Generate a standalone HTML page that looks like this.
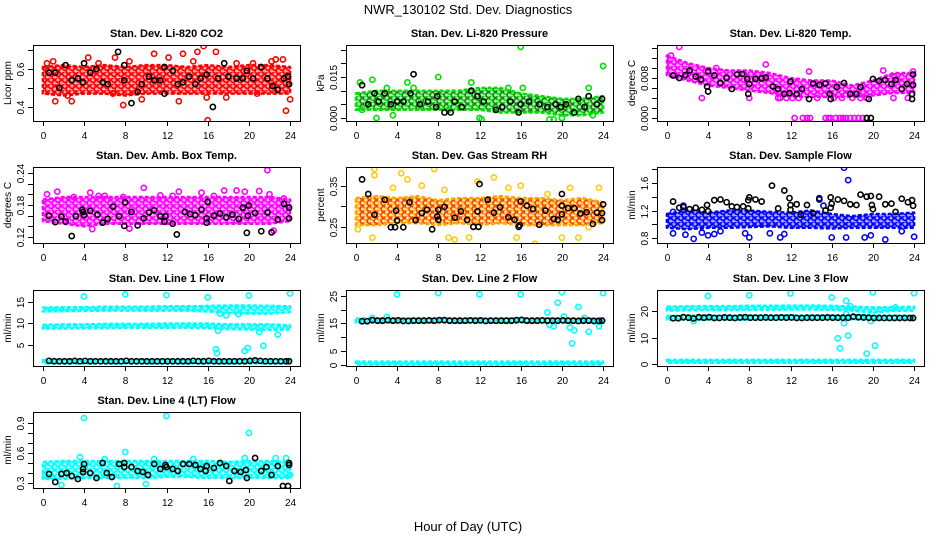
<!DOCTYPE html>
<html><head><meta charset="utf-8"><style>
html,body{margin:0;padding:0;background:#fff;}
svg{display:block;font-family:"Liberation Sans",Arial,sans-serif;}
</style></head><body>
<svg id="root" width="936" height="540" viewBox="0 0 936 540">
<defs id="defs"></defs>
<text x="468" y="14" font-size="13" text-anchor="middle">NWR_130102  Std. Dev. Diagnostics</text>
<text x="468" y="531" font-size="13" text-anchor="middle">Hour of Day (UTC)</text>
</svg>
<script>
const bandX = [0,2,4,6,8,10,12,14,16,18,20,22,24];
const lineBlackX = [0.6,1.1,1.6,2.1,2.6,3.1,3.6,4.1,4.6,5.1,5.6,6.1,6.6,7.1,7.6,8.1,8.6,9.1,9.6,10.1,10.6,11.1,11.6,12.1,12.6,13.1,13.6,14.1,14.6,15.1,15.6,16.1,16.6,17.1,17.6,18.1,18.6,19.1,19.6,20.1,20.6,21.1,21.6,22.1,22.6,23.1,23.6,23.9];

// Panel 1: CO2
const co2Lo = [0.47,0.46,0.47,0.47,0.46,0.47,0.47,0.47,0.47,0.47,0.47,0.47,0.47];
const co2Hi = [0.61,0.62,0.61,0.62,0.61,0.62,0.62,0.61,0.62,0.61,0.62,0.62,0.61];
const co2Pts = [[0.4,0.63],[1.0,0.64],[1.2,0.43],[2.4,0.46],[2.8,0.43],[4.4,0.66],[5.4,0.63],[6.8,0.47],[7.0,0.66],[7.8,0.41],[8.4,0.64],[9.6,0.44],[10.8,0.68],[12.2,0.66],[13.2,0.43],[13.6,0.68],[14.6,0.64],[15.0,0.69],[15.6,0.72],[15.9,0.45],[16.0,0.33],[16.8,0.69],[17.8,0.45],[18.8,0.63],[20.4,0.63],[20.8,0.47],[22.2,0.64],[22.6,0.65],[23.3,0.65],[23.6,0.38],[24.0,0.44]];
const co2Black = [[0.6,0.58],[1.2,0.58],[1.6,0.5],[2.2,0.62],[2.8,0.54],[3.4,0.55],[3.9,0.53],[4.0,0.63],[4.6,0.58],[5.2,0.6],[5.8,0.53],[6.3,0.52],[7.3,0.69],[7.9,0.62],[7.9,0.54],[8.6,0.42],[9.2,0.48],[9.6,0.52],[10.3,0.56],[10.8,0.54],[11.4,0.54],[11.8,0.47],[11.8,0.61],[12.6,0.59],[13.1,0.52],[13.6,0.53],[14.2,0.56],[14.8,0.52],[15.3,0.55],[15.9,0.57],[16.5,0.4],[17.0,0.55],[17.6,0.63],[18.0,0.56],[18.8,0.55],[19.4,0.55],[19.8,0.59],[20.4,0.55],[21.2,0.61],[21.8,0.55],[22.3,0.51],[22.8,0.49],[23.4,0.55],[23.8,0.56],[23.9,0.52]];

// Panel 2: Pressure
const presLo = [0.003,0.003,0.003,0.003,0.003,0.003,0.003,0.002,0.002,0.002,0.001,0.001,0.002];
const presHi = [0.009,0.010,0.010,0.010,0.010,0.010,0.011,0.011,0.009,0.008,0.007,0.007,0.008];
const presPts = [[0.4,0.013],[0.6,0.003],[1.6,0.014],[2.0,0.0],[3.0,0.011],[3.6,0.001],[5.0,0.013],[5.6,0.011],[8.0,0.015],[9.0,0.003],[11.2,0.013],[12.0,0.0],[12.2,-0.0005],[14.8,0.011],[16.0,0.026],[16.2,0.011],[18.8,-0.0005],[19.2,-0.0005],[20.0,0.0],[22.6,0.011],[24.0,0.019],[23.0,0.001]];
const presBlack = [[0.6,0.012],[1.2,0.005],[1.8,0.009],[2.2,0.006],[2.8,0.009],[3.4,0.005],[4.0,0.006],[4.6,0.006],[5.3,0.009],[5.6,0.016],[6.2,0.005],[7.0,0.006],[7.8,0.004],[7.9,0.008],[8.6,0.002],[9.2,0.002],[9.6,0.006],[10.3,0.004],[11.2,0.010],[11.8,0.008],[12.4,0.006],[13.6,0.003],[14.2,0.004],[15.0,0.006],[15.8,0.002],[16.0,0.005],[16.8,0.006],[17.8,0.005],[18.6,0.004],[19.4,0.005],[19.9,0.004],[20.4,0.005],[21.2,0.002],[21.6,0.007],[22.2,0.004],[22.6,0.008],[23.4,0.005],[23.9,0.007]];

// Panel 3: Li-820 temp
const tempLo = [0.0085,0.0075,0.0065,0.006,0.0055,0.005,0.0042,0.0042,0.0042,0.0042,0.0045,0.005,0.005];
const tempHi = [0.0125,0.011,0.010,0.0095,0.0095,0.009,0.008,0.0075,0.0075,0.0065,0.0075,0.009,0.009];
const tempPts = [[1.2,0.0142],[0.4,0.0125],[3.4,0.004],[4.8,0.010],[8.0,0.004],[9.6,0.0107],[11.0,0.004],[13.8,0.0093],[12.4,0],[13.2,0],[13.6,0],[13.9,0],[15.4,0],[15.7,0],[15.9,0],[16.4,0],[16.8,0],[17.1,0],[17.4,0],[17.8,0],[18.2,0],[18.6,0],[19.0,0],[22.0,0.004],[23.4,0.004],[23.9,0.0093],[21.0,0.0095],[10.8,0.004],[11.6,0.004],[12.2,0.004],[12.8,0.004],[14.6,0.004],[16.2,0.004],[17.0,0.004],[18.0,0.004],[18.8,0.004],[19.4,0.004]];
const tempBlack = [[0.6,0.0085],[1.2,0.008],[1.8,0.0086],[2.2,0.0095],[2.8,0.0083],[3.3,0.0077],[3.9,0.0063],[4.0,0.0053],[4.0,0.0093],[4.6,0.0085],[5.2,0.007],[5.8,0.008],[6.3,0.0058],[6.8,0.0087],[7.3,0.0088],[7.8,0.0078],[7.9,0.0048],[8.0,0.0068],[8.6,0.0078],[9.2,0.0079],[9.6,0.0081],[10.3,0.0063],[10.8,0.0058],[11.4,0.0048],[11.9,0.005],[12.0,0.0073],[12.6,0.0048],[13.1,0.0058],[13.8,0.0038],[14.2,0.0069],[14.8,0.0066],[15.4,0.0069],[15.8,0.0048],[15.9,0.0038],[16.5,0.0062],[17.2,0.007],[17.8,0.0048],[18.4,0.0048],[18.8,0.0062],[19.4,0.0],[19.8,0.0],[19.6,0.0038],[20.0,0.0078],[20.6,0.0074],[21.2,0.0076],[21.8,0.0068],[22.2,0.0076],[22.8,0.0058],[23.3,0.0068],[23.8,0.0048],[23.8,0.0038],[23.9,0.0087],[23.9,0.0066]];

// Panel 4: Amb box temp
const ambLo = [0.15,0.145,0.14,0.145,0.145,0.145,0.145,0.145,0.145,0.145,0.145,0.145,0.15];
const ambHi = [0.19,0.195,0.195,0.195,0.195,0.195,0.195,0.195,0.195,0.195,0.195,0.195,0.19];
const ambPts = [[0.4,0.200],[1.4,0.205],[3.0,0.195],[4.8,0.135],[4.6,0.203],[5.4,0.197],[6.0,0.197],[7.8,0.195],[8.4,0.136],[9.8,0.212],[11.4,0.198],[12.6,0.197],[13.2,0.205],[15.4,0.203],[16.6,0.197],[17.6,0.207],[18.8,0.207],[19.6,0.205],[21.0,0.206],[21.8,0.245],[22.4,0.132],[23.4,0.192],[22.0,0.2]];
const ambBlack = [[0.6,0.160],[1.2,0.148],[1.8,0.158],[2.2,0.149],[2.8,0.122],[3.2,0.159],[3.8,0.171],[3.9,0.167],[4.0,0.161],[4.6,0.169],[5.3,0.162],[5.8,0.147],[6.3,0.154],[6.8,0.177],[7.4,0.159],[7.9,0.141],[8.0,0.185],[8.6,0.167],[9.2,0.142],[9.8,0.155],[10.3,0.166],[10.8,0.17],[11.4,0.159],[11.8,0.149],[11.9,0.159],[12.6,0.145],[13.0,0.125],[13.8,0.167],[14.3,0.163],[14.8,0.161],[15.4,0.171],[15.9,0.147],[15.9,0.155],[16.0,0.186],[16.6,0.16],[17.2,0.164],[17.8,0.157],[18.4,0.162],[19.0,0.154],[19.4,0.175],[19.8,0.128],[19.9,0.16],[20.0,0.179],[20.6,0.165],[21.2,0.131],[21.8,0.166],[22.2,0.129],[22.8,0.153],[23.4,0.182],[23.9,0.155],[23.9,0.175]];

// Panel 5: Gas stream RH
const rhLo = [0.255,0.255,0.26,0.26,0.255,0.26,0.255,0.26,0.255,0.255,0.255,0.255,0.26];
const rhHi = [0.32,0.325,0.32,0.325,0.315,0.32,0.32,0.325,0.32,0.32,0.315,0.32,0.31];
const rhPts = [[1.6,0.225],[1.8,0.39],[1.8,0.375],[3.6,0.345],[4.4,0.38],[5.0,0.365],[6.4,0.35],[7.6,0.39],[8.6,0.34],[9.0,0.225],[9.6,0.22],[11.0,0.225],[11.8,0.36],[13.4,0.37],[14.8,0.345],[15.6,0.225],[16.0,0.35],[17.4,0.21],[18.6,0.33],[20.0,0.225],[20.8,0.345],[21.6,0.225],[23.6,0.345],[0.2,0.245],[22.6,0.25]];
const rhBlack = [[0.6,0.365],[1.2,0.33],[1.8,0.28],[2.8,0.316],[3.4,0.25],[3.8,0.25],[3.9,0.29],[4.0,0.266],[4.6,0.25],[5.2,0.31],[5.8,0.267],[6.4,0.284],[6.9,0.292],[7.4,0.245],[7.9,0.276],[8.0,0.292],[8.0,0.268],[8.6,0.299],[9.6,0.273],[10.2,0.288],[10.8,0.268],[11.4,0.251],[11.8,0.288],[11.9,0.251],[12.0,0.354],[12.8,0.316],[13.4,0.285],[14.0,0.298],[14.8,0.274],[15.4,0.268],[15.9,0.255],[15.8,0.251],[16.0,0.312],[16.6,0.302],[17.2,0.294],[17.8,0.256],[18.4,0.29],[19.2,0.27],[19.6,0.268],[20.0,0.302],[20.0,0.33],[20.0,0.281],[20.6,0.296],[21.2,0.296],[21.8,0.283],[22.4,0.286],[23.0,0.258],[23.4,0.285],[23.9,0.267],[23.9,0.284],[24.0,0.305]];

// Panel 6: Sample flow
const sfLo = [0.95,0.93,0.95,0.95,0.96,0.97,0.95,0.95,0.94,0.95,0.95,0.95,0.95];
const sfHi = [1.15,1.2,1.17,1.2,1.2,1.18,1.17,1.2,1.15,1.12,1.15,1.15,1.17];
const sfPts = [[0.6,1.18],[0.6,0.87],[1.6,1.27],[1.8,0.85],[2.6,0.79],[3.4,0.88],[4.0,0.84],[4.6,0.86],[5.2,0.9],[7.6,0.87],[8.0,0.81],[10.0,0.87],[11.0,0.81],[11.4,0.86],[14.8,1.38],[15.2,1.27],[16.0,0.81],[17.2,1.82],[17.6,1.64],[17.4,0.81],[19.2,0.81],[19.8,0.84],[21.2,0.78],[22.8,0.9],[24.0,0.82]];
const sfBlack = [[0.6,1.33],[1.2,1.24],[1.6,1.25],[2.2,1.22],[2.8,1.24],[3.4,1.21],[3.9,1.28],[4.0,1.19],[4.6,1.35],[5.2,1.36],[5.8,1.32],[6.3,1.26],[6.8,1.25],[7.4,1.26],[7.9,1.35],[7.9,1.23],[8.0,1.39],[8.6,1.36],[9.2,1.33],[10.2,1.56],[10.8,1.23],[11.4,1.49],[11.9,1.38],[12.0,1.28],[12.0,1.21],[12.6,1.29],[13.0,1.14],[13.6,1.28],[14.2,1.16],[14.8,1.36],[15.4,1.2],[15.9,1.39],[16.0,1.3],[15.9,1.24],[16.6,1.36],[17.2,1.34],[17.8,1.29],[18.4,1.28],[18.8,1.43],[19.4,1.4],[19.8,1.41],[19.9,1.28],[20.0,1.22],[20.6,1.4],[21.2,1.29],[21.8,1.3],[22.2,1.18],[22.8,1.37],[23.4,1.32],[23.8,1.35],[23.9,1.27]];

// Panel 7: Line 1 flow
const l1LoA = [12.8,12.9,12.9,13.0,13.0,13.0,13.0,13.0,12.8,12.4,12.3,12.3,12.6];
const l1HiA = [13.7,13.8,13.8,13.9,13.9,13.9,14.0,14.0,14.1,14.2,14.2,14.1,14.0];
const l1LoB = [8.8,8.8,8.9,8.9,9.0,9.0,9.0,9.0,8.9,8.7,8.6,8.5,8.6];
const l1HiB = [9.7,9.8,9.8,9.9,9.9,9.9,10.0,10.0,10.0,9.8,9.8,9.8,9.6];
const l1LoC = [0.7,0.7,0.7,0.7,0.7,0.7,0.7,0.7,0.7,0.7,0.7,0.7,0.7];
const l1HiC = [1.5,1.5,1.5,1.5,1.5,1.5,1.5,1.5,1.5,1.5,1.5,1.5,1.5];
const l1Pts = [[4.0,16.3],[8.0,16.8],[12.0,16.6],[16.0,16.1],[20.0,16.5],[24.0,17.0],[16.8,4.0],[16.9,3.1],[19.6,3.6],[19.9,4.3],[21.4,4.8],[22.8,7.4],[17.2,12.3],[17.8,11.9],[19.0,12.2],[21.0,8.0],[17.0,8.3]];
const l1BlackY = [1.3,1.2,1.2,1.2,1.2,1.3,1.2,1.3,1.2,1.2,1.2,1.2,1.2,1.2,1.2,1.3,1.2,1.2,1.2,1.2,1.2,1.2,1.2,1.2,1.2,1.2,1.2,1.2,1.3,1.2,1.2,1.3,1.2,1.2,1.2,1.2,1.2,1.2,1.2,1.3,1.4,1.3,1.2,1.2,1.2,1.2,1.2,1.2];

// Panel 8: Line 2 flow
const l2LoA = [15.3,15.3,15.3,15.3,15.3,15.3,15.3,15.3,15.3,15.3,15.3,15.3,15.3];
const l2HiA = [16.8,16.9,16.8,16.8,16.8,16.8,16.8,16.8,16.9,16.8,16.8,16.8,16.8];
const l2LoB = [0.1,0.1,0.1,0.1,0.1,0.1,0.1,0.1,0.1,0.1,0.1,0.1,0.1];
const l2HiB = [1.2,1.2,1.2,1.2,1.2,1.2,1.2,1.2,1.2,1.2,1.2,1.2,1.2];
const l2Pts = [[4.0,25.5],[8.0,26.0],[12.0,25.5],[16.0,25.5],[20.0,26.3],[24.0,26.0],[18.6,19.0],[19.6,22.5],[18.8,14.5],[19.2,14.0],[20.2,17.5],[20.8,13.5],[21.2,12.5],[21.0,7.8],[21.6,21.0],[22.2,17.0],[22.6,12.0],[23.6,14.0],[1.6,17.0],[3.0,17.3]];
const l2BlackY = [15.8,15.8,16.2,16.0,16.0,16.2,16.0,16.1,15.9,15.9,16.0,16.0,16.0,16.1,16.0,16.2,16.2,16.0,16.0,16.0,16.0,16.1,16.0,16.1,15.9,16.0,16.0,16.0,16.0,16.0,16.2,16.3,16.0,16.0,16.0,16.1,16.0,16.0,16.0,16.1,16.0,16.0,15.9,16.0,16.0,15.9,15.9,16.0];

// Panel 9: Line 3 flow
const l3LoA = [20.3,20.4,20.5,20.5,20.6,20.6,20.7,20.7,20.6,20.3,19.5,20.2,20.3];
const l3HiA = [21.8,21.9,22.0,22.0,22.1,22.1,22.2,22.2,22.1,21.8,21.5,21.6,21.8];
const l3LoB = [16.8,16.9,16.9,16.9,16.9,17.0,17.0,17.0,17.0,17.0,16.9,16.9,16.9];
const l3HiB = [18.3,18.4,18.4,18.4,18.4,18.4,18.5,18.4,18.4,18.5,18.4,18.4,18.3];
const l3LoC = [0.5,0.5,0.5,0.5,0.5,0.5,0.5,0.5,0.5,0.5,0.5,0.5,0.5];
const l3HiC = [1.6,1.6,1.6,1.6,1.6,1.6,1.6,1.6,1.6,1.6,1.6,1.6,1.6];
const l3Pts = [[4.0,25.8],[8.0,26.1],[12.0,26.8],[16.0,25.3],[20.0,27.2],[24.0,26.9],[16.6,9.8],[16.8,6.0],[17.2,15.5],[17.4,24.0],[17.6,10.8],[17.8,22.0],[19.4,4.0],[19.8,16.3],[20.2,7.0],[17.4,19.0],[22.2,21.5],[2.6,16.3]];
const l3BlackY = [17.4,17.4,17.8,17.6,17.3,17.8,17.6,17.8,17.5,17.5,17.7,17.6,17.5,17.7,17.8,17.6,17.6,17.6,17.7,17.6,17.6,17.7,17.6,17.7,17.5,17.5,17.6,17.6,17.6,17.6,17.7,17.6,17.6,17.6,17.6,18.0,17.8,17.7,17.6,17.5,17.5,17.5,17.5,17.5,17.5,17.5,17.5,17.5];

// Panel 10: Line 4 (LT) flow
const l4Lo = [0.34,0.34,0.35,0.35,0.35,0.35,0.36,0.36,0.35,0.35,0.35,0.35,0.35];
const l4Hi = [0.51,0.52,0.52,0.52,0.52,0.52,0.52,0.52,0.52,0.51,0.52,0.52,0.51];
const l4Pts = [[4.0,0.95],[12.0,0.97],[20.0,0.8],[1.8,0.28],[7.2,0.27],[10.0,0.29],[8.0,0.61],[3.6,0.56],[6.0,0.54],[0.2,0.38],[10.8,0.54],[14.6,0.54],[19.6,0.55],[22.6,0.55],[23.6,0.55],[24.0,0.38]];
const l4Black = [[0.6,0.39],[1.2,0.31],[1.8,0.39],[2.3,0.4],[2.8,0.37],[3.4,0.34],[3.9,0.41],[3.9,0.44],[4.0,0.49],[4.6,0.4],[5.2,0.35],[5.8,0.5],[6.2,0.4],[6.7,0.36],[7.4,0.49],[7.9,0.46],[7.9,0.5],[8.6,0.46],[9.2,0.42],[9.7,0.41],[10.2,0.38],[10.8,0.49],[11.4,0.44],[11.9,0.48],[12.0,0.46],[12.6,0.44],[13.1,0.42],[13.6,0.49],[14.2,0.49],[14.8,0.48],[15.3,0.44],[15.8,0.42],[15.9,0.47],[16.6,0.45],[17.2,0.5],[17.8,0.47],[18.1,0.32],[18.6,0.42],[19.2,0.41],[19.7,0.43],[19.8,0.35],[20.6,0.55],[21.2,0.42],[21.7,0.46],[22.2,0.38],[22.8,0.47],[23.3,0.27],[23.8,0.27],[23.9,0.48],[23.9,0.5]];

const xTicks = [0,4,8,12,16,20,24];

const NS = "http://www.w3.org/2000/svg";
const root = document.getElementById('root');
const defs = document.getElementById('defs');
function mk(tag, attrs, parent){ const e=document.createElementNS(NS,tag); for(const k in attrs) e.setAttribute(k,attrs[k]); (parent||root).appendChild(e); return e; }

// ring-texture patterns to mimic overlapping open circles
const patMade = {};
function pattern(color, alt){
  const id='pat-'+color.replace('#','')+(alt?alt.replace('#',''):'');
  if(patMade[id]) return id;
  patMade[id]=1;
  const pt=mk('pattern',{id:id,width:7,height:6,patternUnits:'userSpaceOnUse'},defs);
  mk('rect',{x:0,y:0,width:7,height:6,fill:color,'fill-opacity':0.35},pt);
  mk('circle',{cx:2,cy:2,r:2.4,fill:'none',stroke:color,'stroke-width':1.6},pt);
  mk('circle',{cx:5.5,cy:5,r:2.4,fill:'none',stroke:alt||color,'stroke-width':1.6},pt);
  mk('circle',{cx:5.5,cy:-1,r:2.4,fill:'none',stroke:alt||color,'stroke-width':1.6},pt);
  return id;
}

const CYAN = "#00ffff";
const panels = [
 {id:'co2',title:'Stan. Dev. Li-820 CO2',ylab:'Licor ppm',col:0,row:0,ymin:0.326,ymax:0.726,ticks:[0.4,0.5,0.6,0.7],labels:{0.4:'0.4',0.6:'0.6'},color:'#ff0000',bands:[[co2Lo,co2Hi]],pts:co2Pts,black:co2Black},
 {id:'pressure',title:'Stan. Dev. Li-820 Pressure',ylab:'kPa',col:1,row:0,ymin:-0.0011,ymax:0.0267,ticks:[0,0.005,0.01,0.015,0.02,0.025],labels:{0:'0.000',0.015:'0.015'},color:'#00e000',alt:'#208020',bands:[[presLo,presHi]],pts:presPts,black:presBlack},
 {id:'li820-temp',title:'Stan. Dev. Li-820 Temp.',ylab:'degrees C',col:2,row:0,ymin:-0.0006,ymax:0.0146,ticks:[0,0.002,0.004,0.006,0.008,0.010,0.012,0.014],labels:{0:'0.000',0.008:'0.008'},color:'#ff00ff',bands:[[tempLo,tempHi]],pts:tempPts,black:tempBlack},
 {id:'amb-box-temp',title:'Stan. Dev. Amb. Box Temp.',ylab:'degrees C',col:0,row:1,ymin:0.109,ymax:0.251,ticks:[0.12,0.14,0.16,0.18,0.20,0.22,0.24],labels:{0.12:'0.12',0.18:'0.18',0.24:'0.24'},color:'#ff00ff',bands:[[ambLo,ambHi]],pts:ambPts,black:ambBlack},
 {id:'gas-stream-rh',title:'Stan. Dev. Gas Stream RH',ylab:'percent',col:1,row:1,ymin:0.212,ymax:0.395,ticks:[0.25,0.30,0.35],labels:{0.25:'0.25',0.35:'0.35'},color:'#ffa500',alt:'#ff4000',pcolor:'#ffcc00',bands:[[rhLo,rhHi]],pts:rhPts,black:rhBlack},
 {id:'sample-flow',title:'Stan. Dev. Sample Flow',ylab:'ml/min',col:2,row:1,ymin:0.73,ymax:1.83,ticks:[0.8,1.0,1.2,1.4,1.6,1.8],labels:{0.8:'0.8',1.2:'1.2',1.6:'1.6'},color:'#0000ff',bands:[[sfLo,sfHi]],pts:sfPts,black:sfBlack},
 {id:'line1-flow',title:'Stan. Dev. Line 1 Flow',ylab:'ml/min',col:0,row:2,ymin:0.1,ymax:17.8,ticks:[5,10,15],labels:{5:'5',10:'10',15:'15'},color:CYAN,bands:[[l1LoA,l1HiA],[l1LoB,l1HiB],[l1LoC,l1HiC]],pts:l1Pts,blackY:l1BlackY},
 {id:'line2-flow',title:'Stan. Dev. Line 2 Flow',ylab:'ml/min',col:1,row:2,ymin:-0.4,ymax:27.1,ticks:[0,5,10,15,20,25],labels:{0:'0',5:'5',15:'15',25:'25'},color:CYAN,bands:[[l2LoA,l2HiA],[l2LoB,l2HiB]],pts:l2Pts,blackY:l2BlackY},
 {id:'line3-flow',title:'Stan. Dev. Line 3 Flow',ylab:'ml/min',col:2,row:2,ymin:-0.7,ymax:28.1,ticks:[0,10,20],labels:{0:'0',10:'10',20:'20'},color:CYAN,bands:[[l3LoA,l3HiA],[l3LoB,l3HiB],[l3LoC,l3HiC]],pts:l3Pts,blackY:l3BlackY},
 {id:'line4-flow',title:'Stan. Dev. Line 4 (LT) Flow',ylab:'ml/min',col:0,row:3,ymin:0.25,ymax:1.01,ticks:[0.3,0.4,0.5,0.6,0.7,0.8,0.9],labels:{0.3:'0.3',0.6:'0.6',0.9:'0.9'},color:CYAN,bands:[[l4Lo,l4Hi]],pts:l4Pts,black:l4Black}
];
const colL=[33,346,657], rowT=[45,167,290,412], W=267, H=76;

panels.forEach(p=>{
  const L=colL[p.col], T=rowT[p.row];
  const g=mk('g',{});
  
  
  const xs=h=>L+W*(h+0.96)/25.92;
  const ys=v=>T+H-H*(v-p.ymin)/(p.ymax-p.ymin);
  const clipId='clip-'+p.id;
  const cp=mk('clipPath',{id:clipId},g); mk('rect',{x:L,y:T,width:W,height:H},cp);
  const plot=mk('g',{'clip-path':'url(#'+clipId+')'},g);
  
  
  const pid=pattern(p.color,p.alt);
  p.bands.forEach((b,bi)=>{
    const lo=b[0], hi=b[1];
    let d='M'+bandX.map((x,i)=>xs(x).toFixed(1)+','+ys(hi[i]).toFixed(1)).join(' L');
    d+=' L'+bandX.map((x,i)=>[x,i]).reverse().map(([x,i])=>xs(x).toFixed(1)+','+ys(lo[i]).toFixed(1)).join(' L')+' Z';
    const band=mk('path',{d:d,fill:'url(#'+pid+')',stroke:p.color,'stroke-width':2.5,'stroke-linejoin':'round','stroke-dasharray':'4 2'},plot);
    
    
  });
  p.pts.forEach(pt=>{
    const c=mk('circle',{cx:xs(pt[0]),cy:ys(pt[1]),r:2.6,fill:'none',stroke:p.pcolor||p.color,'stroke-width':1.6},plot);
    
    
  });
  const blk = p.black || lineBlackX.map((x,i)=>[x,p.blackY[i]]);
  blk.forEach(pt=>{
    const c=mk('circle',{cx:xs(pt[0]),cy:ys(pt[1]),r:2.6,fill:'none',stroke:'#000','stroke-width':1.6},plot);
    
    
  });
  const fr=mk('rect',{x:L+0.5,y:T+0.5,width:W,height:H,fill:'none',stroke:'#000','stroke-width':1},g);
  
  
  mk('line',{x1:xs(0),x2:xs(24),y1:T+H+0.5,y2:T+H+0.5,stroke:'#000'},g);
  xTicks.forEach(t=>{
    const X=Math.round(xs(t))+0.5;
    mk('line',{x1:X,x2:X,y1:T+H,y2:T+H+5,stroke:'#000'},g);
    const tx=mk('text',{x:X,y:T+H+18,'font-size':10,'text-anchor':'middle'},g);
    tx.textContent=t;
    
    
  });
  mk('line',{x1:L+0.5,x2:L+0.5,y1:ys(p.ticks[0]),y2:ys(p.ticks[p.ticks.length-1]),stroke:'#000'},g);
  p.ticks.forEach(t=>{
    const Y=Math.round(ys(t))+0.5;
    mk('line',{x1:L-5,x2:L,y1:Y,y2:Y,stroke:'#000'},g);
    const key=Object.keys(p.labels).find(k=>Math.abs(parseFloat(k)-t)<1e-9);
    if(key!==undefined){
      const tx=mk('text',{x:L-9,y:Y,'font-size':10,'text-anchor':'middle',transform:'rotate(-90 '+(L-9)+' '+Y+')'},g);
      tx.textContent=p.labels[key];
      
      
    }
  });
  const yl=mk('text',{x:L-22,y:T+H/2,'font-size':10,'text-anchor':'middle',transform:'rotate(-90 '+(L-22)+' '+(T+H/2)+')'},g);
  yl.textContent=p.ylab;
  
  
  const tt=mk('text',{x:L+W/2,y:T-8,'font-size':11,'font-weight':'bold','text-anchor':'middle'},g);
  tt.textContent=p.title;
  
  
});
</script>
</body></html>
